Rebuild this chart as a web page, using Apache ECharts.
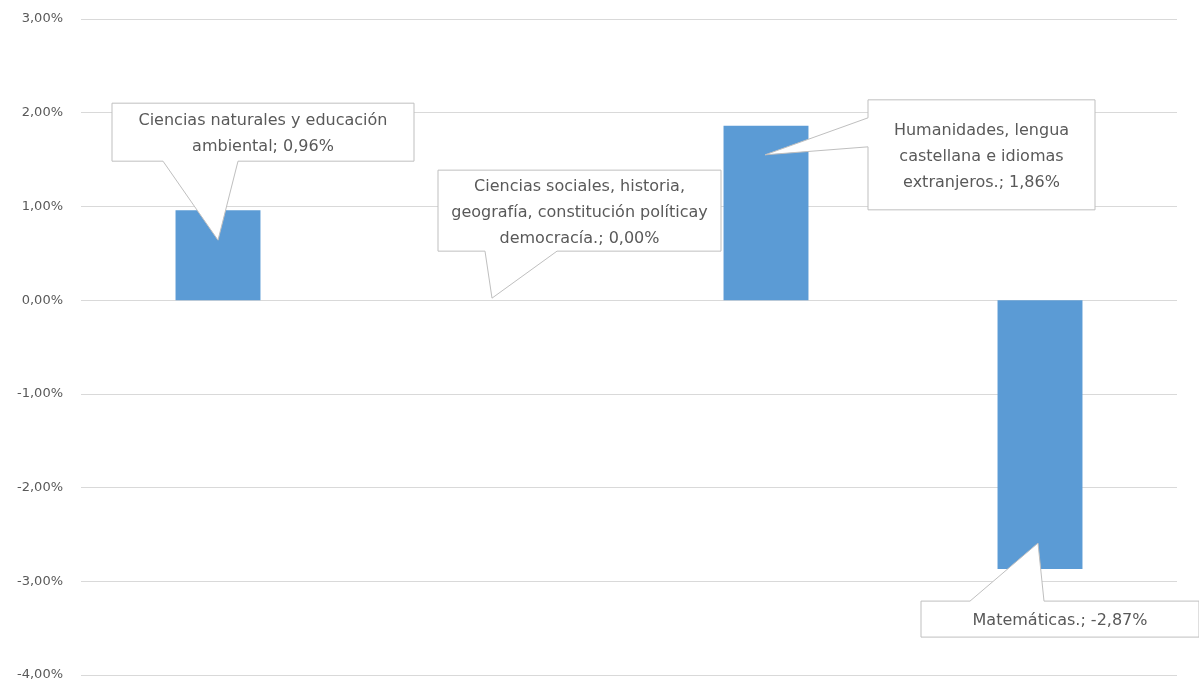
<!DOCTYPE html>
<html>
<head>
<meta charset="utf-8">
<script src="https://cdn.jsdelivr.net/npm/echarts@6/dist/echarts.min.js"></script>
<style>
html,body{margin:0;padding:0;background:#fff;}
#chart{width:1199px;height:684px;}
</style>
</head>
<body>
<div id="chart"></div>
<script>
// ---- data ----
const categories = [
  'Ciencias naturales y educación ambiental',
  'Ciencias sociales, historia, geografía, constitución políticay democracía.',
  'Humanidades, lengua castellana e idiomas extranjeros.',
  'Matemáticas.'
];
const values = [0.96, 0.00, 1.86, -2.87];
const calloutLines = [
  ['Ciencias naturales y educación', 'ambiental; 0,96%'],
  ['Ciencias sociales, historia,', 'geografía, constitución políticay', 'democracía.; 0,00%'],
  ['Humanidades, lengua', 'castellana e idiomas', 'extranjeros.; 1,86%'],
  ['Matemáticas.; -2,87%']
];
const yTicks = { min: -4, max: 3, interval: 1 };

// ---- callout layout (pixel offsets relative to the bar end) ----
const calloutLayout = [
  { box: [-106, -107, 196, -49], side: 'bottom', w: [-55, 20], tip: [0, 30] },
  { box: [-54, -130, 229, -49], side: 'bottom', w: [-7, 65], tip: [0, -2] },
  { box: [102, -26, 329, 84], side: 'left', w: [-8, 21], tip: [-1, 29] },
  { box: [-119, 32, 159, 68], side: 'top', w: [-70, 4], tip: [-2, -26] }
];

function fmt(v) { return v.toFixed(2).replace('.', ',') + '%'; }

const chart = echarts.init(document.getElementById('chart'), null, { renderer: 'canvas' });

function renderCallout(params, api) {
  const i = params.dataIndex;
  const p = api.coord([api.value(0), api.value(1)]);
  const L = calloutLayout[i];
  const x1 = p[0] + L.box[0], y1 = p[1] + L.box[1], x2 = p[0] + L.box[2], y2 = p[1] + L.box[3];
  const tip = [p[0] + L.tip[0], p[1] + L.tip[1]];
  let pts;
  if (L.side === 'bottom') {
    pts = [[x1, y1], [x2, y1], [x2, y2], [p[0] + L.w[1], y2], tip, [p[0] + L.w[0], y2], [x1, y2]];
  } else if (L.side === 'top') {
    pts = [[x1, y1], [p[0] + L.w[0], y1], tip, [p[0] + L.w[1], y1], [x2, y1], [x2, y2], [x1, y2]];
  } else {
    pts = [[x1, y1], [x2, y1], [x2, y2], [x1, y2], [x1, p[1] + L.w[1]], tip, [x1, p[1] + L.w[0]]];
  }
  return {
    type: 'group',
    children: [
      { type: 'polygon', shape: { points: pts },
        style: { fill: '#ffffff', stroke: '#bfbfbf', lineWidth: 1 } },
      { type: 'text',
        style: {
          text: calloutLines[i].join('\n'),
          x: (x1 + x2) / 2, y: (y1 + y2) / 2 + 2,
          align: 'center', verticalAlign: 'middle',
          fill: '#595959', fontSize: 16, lineHeight: 26,
          fontFamily: 'DejaVu Sans, sans-serif'
        } }
    ]
  };
}

chart.setOption({
  animation: false,
  backgroundColor: '#ffffff',
  grid: { left: 81, right: 22, top: 19, bottom: 9, containLabel: false },
  xAxis: {
    type: 'category',
    data: categories,
    axisLine: { show: false },
    axisTick: { show: false },
    axisLabel: { show: false },
    splitLine: { show: false }
  },
  yAxis: {
    type: 'value',
    min: yTicks.min, max: yTicks.max, interval: yTicks.interval,
    axisLine: { show: false },
    axisTick: { show: false },
    axisLabel: {
      formatter: fmt, color: '#595959', fontSize: 13, margin: 18,
      fontFamily: 'DejaVu Sans, sans-serif'
    },
    splitLine: { lineStyle: { color: '#d9d9d9', width: 1 } }
  },
  series: [
    {
      type: 'bar',
      data: values,
      barWidth: '31%',
      itemStyle: { color: '#5b9bd5' },
      z: 2
    },
    {
      type: 'custom',
      renderItem: renderCallout,
      data: values.map((v, i) => [i, v]),
      clip: false,
      z: 5,
      silent: true
    }
  ]
});
</script>
</body>
</html>
